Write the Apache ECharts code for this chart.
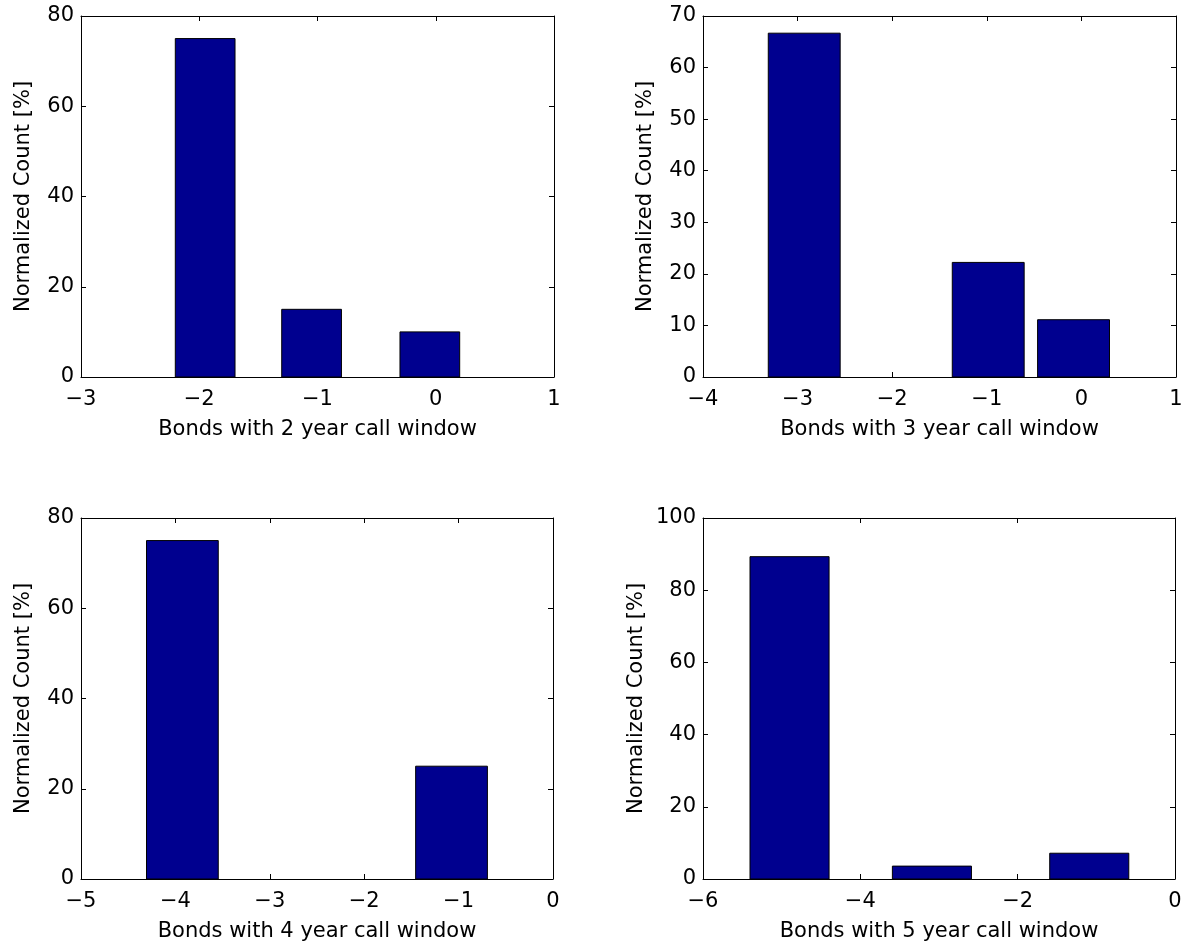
<!DOCTYPE html>
<html>
<head>
<meta charset="utf-8">
<script src="https://cdn.jsdelivr.net/npm/echarts@6/dist/echarts.min.js"></script>
<style>
html,body{margin:0;padding:0;background:#fff;}
#chart{width:1189px;height:947px;}
</style>
</head>
<body>
<div id="chart"></div>
<script>
// ---- data ----
const centers2y = [-1.95, -1.05, -0.05];
const values2y  = [75, 15, 10];
const centers3y = [-2.93, -0.985, -0.083];
const values3y  = [66.67, 22.22, 11.11];
const centers4y = [-3.926, -1.075];
const values4y  = [75, 25];
const centers5y = [-4.90, -3.09, -1.09];
const values5y  = [89.29, 3.57, 7.14];
const binWidths = [0.505, 0.76, 0.76, 1.005];

const xTitles = [
  'Bonds with 2 year call window',
  'Bonds with 3 year call window',
  'Bonds with 4 year call window',
  'Bonds with 5 year call window'
];
const yTitle = 'Normalized Count [%]';
const xMins = [-3, -4, -5, -6];
const xMaxs = [1, 1, 0, 0];
const xSteps = [1, 1, 1, 2];
const yMaxs = [80, 70, 80, 100];
const ySteps = [20, 10, 20, 20];

// ---- layout / style ----
const FONT = 'DejaVu Sans';
const FS = 21;
const grids = [
  {left: 81, top: 16, width: 473, height: 361},
  {left: 703, top: 16, width: 473, height: 361},
  {left: 81, top: 518, width: 472, height: 361},
  {left: 703, top: 518, width: 472, height: 361}
];
const panelData = [
  [centers2y, values2y],
  [centers3y, values3y],
  [centers4y, values4y],
  [centers5y, values5y]
];

function fmt(v) { return v < 0 ? '\u2212' + Math.abs(v) : String(v); }

const xAxes = [], yAxes = [], series = [];
grids.forEach((g, i) => {
  const common = {
    gridIndex: i,
    axisLine: {show: true, onZero: false, lineStyle: {color: '#000', width: 1}},
    axisTick: {show: true, inside: true, length: 5, lineStyle: {color: '#000', width: 1}},
    splitLine: {show: false}
  };
  xAxes.push(Object.assign({}, common, {
    type: 'value', position: 'bottom', min: xMins[i], max: xMaxs[i], interval: xSteps[i],
    axisLabel: {show: true, margin: 12, color: '#000', fontFamily: FONT, fontSize: FS, formatter: fmt},
    name: xTitles[i], nameLocation: 'middle', nameGap: 42,
    nameTextStyle: {color: '#000', fontFamily: FONT, fontSize: FS}
  }));
  xAxes.push(Object.assign({}, common, {
    type: 'value', position: 'top', min: xMins[i], max: xMaxs[i], interval: xSteps[i],
    axisLabel: {show: false}
  }));
  yAxes.push(Object.assign({}, common, {
    type: 'value', position: 'left', min: 0, max: yMaxs[i], interval: ySteps[i],
    axisLabel: {show: true, margin: 7, color: '#000', fontFamily: FONT, fontSize: FS, formatter: fmt},
    name: yTitle, nameLocation: 'middle', nameRotate: 90, nameGap: i === 3 ? 56 : 47,
    nameTextStyle: {color: '#000', fontFamily: FONT, fontSize: FS}
  }));
  yAxes.push(Object.assign({}, common, {
    type: 'value', position: 'right', min: 0, max: yMaxs[i], interval: ySteps[i],
    axisLabel: {show: false}
  }));
  const [cs, vs] = panelData[i];
  const w = binWidths[i];
  series.push({
    type: 'custom',
    xAxisIndex: 2 * i,
    yAxisIndex: 2 * i,
    data: cs.map((c, k) => [c, vs[k]]),
    renderItem: function (params, api) {
      const c = api.value(0), v = api.value(1);
      const p0 = api.coord([c - w / 2, v]);
      const p1 = api.coord([c + w / 2, 0]);
      return {
        type: 'rect',
        shape: {x: p0[0], y: p0[1], width: p1[0] - p0[0], height: p1[1] - p0[1]},
        style: {fill: '#00008F', stroke: '#000', lineWidth: 1}
      };
    }
  });
});

const chart = echarts.init(document.getElementById('chart'), null, {renderer: 'canvas'});
chart.setOption({
  animation: false,
  backgroundColor: '#fff',
  grid: grids.map(g => Object.assign({containLabel: false}, g)),
  xAxis: xAxes,
  yAxis: yAxes,
  series: series
});
</script>
</body>
</html>
